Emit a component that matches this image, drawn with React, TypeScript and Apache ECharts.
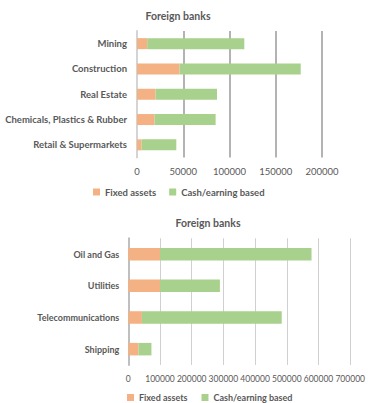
import React, { useEffect, useRef } from "react";
import * as echarts from "echarts";

const topCategories = ["Mining", "Construction", "Real Estate", "Chemicals, Plastics & Rubber", "Retail & Supermarkets"];
const topFixed = [11000, 46000, 20000, 19000, 5000];
const topCash = [105000, 131000, 66500, 66000, 37500];

const bottomCategories = ["Oil and Gas", "Utilities", "Telecommunications", "Shipping"];
const bottomFixed = [100000, 100000, 43000, 32000];
const bottomCash = [478000, 189000, 441000, 41000];

const seriesNames = ["Fixed assets", "Cash/earning based"];
const chartTitle = "Foreign banks";

const FONT = "Lato, 'Liberation Sans', sans-serif";
const ORANGE = "#F4B183";
const GREEN = "#A9D18E";
const TXT = "#595959";

export default function App() {
  const ref = useRef<HTMLDivElement>(null);
  useEffect(() => {
    if (!ref.current) return;
    const chart = echarts.init(ref.current, null, { renderer: "svg" });
    const legendBase = {
      data: seriesNames,
      orient: "horizontal" as const,
      itemWidth: 7,
      itemHeight: 7,
      icon: "rect",
      padding: 0,
    };
    const plain = (v: number) => String(v);
    chart.setOption({
      animation: false,
      backgroundColor: "#ffffff",
      textStyle: { fontFamily: FONT },
      title: [
        {
          text: chartTitle,
          left: 173,
          textAlign: "center",
          top: 5,
          textStyle: { color: TXT, fontSize: 10.5, fontWeight: "bold", fontFamily: FONT },
        },
        {
          text: chartTitle,
          left: 203,
          textAlign: "center",
          top: 212,
          textStyle: { color: TXT, fontSize: 10.5, fontWeight: "bold", fontFamily: FONT },
        },
      ],
      legend: [
        {
          ...legendBase,
          left: 93,
          top: 187,
          itemGap: 13,
          textStyle: { color: TXT, fontSize: 9.5, fontWeight: "bold", fontFamily: FONT },
        },
        {
          ...legendBase,
          left: 127,
          top: 393,
          itemGap: 14,
          textStyle: { color: TXT, fontSize: 9, fontWeight: "bold", fontFamily: FONT },
        },
      ],
      grid: [
        { left: 137, top: 31, width: 185, height: 126.5 },
        { left: 128.3, top: 238.3, width: 224, height: 126.7 },
      ],
      xAxis: [
        {
          type: "value",
          gridIndex: 0,
          min: 0,
          max: 200000,
          interval: 50000,
          axisLine: { show: false },
          axisTick: { show: false },
          axisLabel: { color: TXT, fontSize: 9.5, margin: 9, fontFamily: FONT, formatter: plain },
          splitLine: { lineStyle: { color: "#b3b3b3", width: 2 } },
        },
        {
          type: "value",
          gridIndex: 1,
          min: 0,
          max: 700000,
          interval: 100000,
          axisLine: { show: false },
          axisTick: { show: false },
          axisLabel: { color: TXT, fontSize: 8.5, margin: 9, fontFamily: FONT, formatter: plain, showMaxLabel: true },
          splitLine: { lineStyle: { color: "#d0d0d0", width: 1 } },
        },
      ],
      yAxis: [
        {
          type: "category",
          gridIndex: 0,
          data: topCategories,
          inverse: true,
          axisLine: { show: true, lineStyle: { color: "#d4d4d4", width: 2 } },
          axisTick: { show: false },
          axisLabel: { color: TXT, fontSize: 9.5, fontWeight: "bold", margin: 10, fontFamily: FONT },
        },
        {
          type: "category",
          gridIndex: 1,
          data: bottomCategories,
          inverse: true,
          axisLine: { show: true, lineStyle: { color: "#bfbfbf", width: 2 } },
          axisTick: { show: false },
          axisLabel: { color: TXT, fontSize: 9, fontWeight: "bold", margin: 9, fontFamily: FONT },
        },
      ],
      series: [
        {
          name: seriesNames[0],
          type: "bar",
          stack: "top",
          xAxisIndex: 0,
          yAxisIndex: 0,
          data: topFixed,
          barWidth: 11,
          itemStyle: { color: ORANGE },
        },
        {
          name: seriesNames[1],
          type: "bar",
          stack: "top",
          xAxisIndex: 0,
          yAxisIndex: 0,
          data: topCash,
          barWidth: 11,
          itemStyle: { color: GREEN },
        },
        {
          name: seriesNames[0],
          type: "bar",
          stack: "bottom",
          xAxisIndex: 1,
          yAxisIndex: 1,
          data: bottomFixed,
          barWidth: 12.5,
          itemStyle: { color: ORANGE },
        },
        {
          name: seriesNames[1],
          type: "bar",
          stack: "bottom",
          xAxisIndex: 1,
          yAxisIndex: 1,
          data: bottomCash,
          barWidth: 12.5,
          itemStyle: { color: GREEN },
        },
      ],
    });
    return () => chart.dispose();
  }, []);
  return (
    <div
      ref={ref}
      style={{ position: "fixed", left: 0, top: 0, width: 368, height: 403, background: "#fff" }}
    />
  );
}
